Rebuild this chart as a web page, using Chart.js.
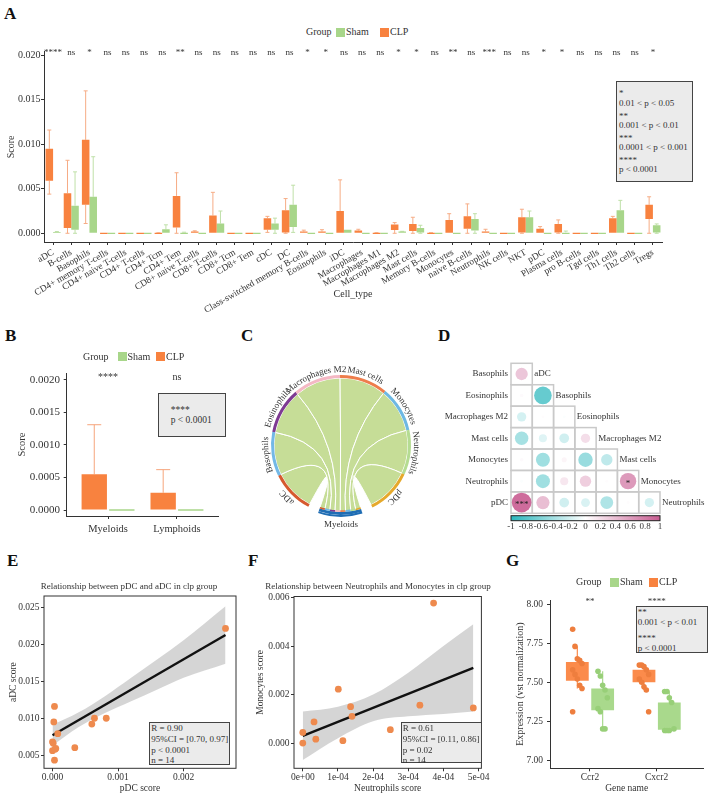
<!DOCTYPE html>
<html lang="en">
<head>
<meta charset="UTF-8">
<title>Immune cell scores, CLP vs Sham</title>
<style>
  body { margin: 0; background: #fff; font-family: 'Liberation Serif', serif; color: #333; }
  #fig { position: relative; width: 709px; height: 801px; overflow: hidden; }
  canvas { position: absolute; }
  .lab { position: absolute; white-space: nowrap; line-height: 1; }
  .letter { position: absolute; font-weight: bold; font-size: 17px; line-height: 17px; color: #111; }
  .note { position: absolute; box-sizing: border-box; background: #ebebeb; border: 1px solid #444; white-space: nowrap; color: #333; }
  .sw { position: absolute; width: 9px; height: 9px; }
</style>
<script src="https://cdn.jsdelivr.net/npm/chart.js"></script>
</head>
<body>
<div id="fig">
  <div class="letter" style="left:4px;top:5px">A</div>
  <div class="letter" style="left:5px;top:327px">B</div>
  <div class="letter" style="left:241px;top:327px">C</div>
  <div class="letter" style="left:438px;top:327px">D</div>
  <div class="letter" style="left:7px;top:552px">E</div>
  <div class="letter" style="left:248px;top:552px">F</div>
  <div class="letter" style="left:506px;top:552px">G</div>

  <canvas id="chartA" width="709" height="285" style="left:0;top:40px"></canvas>
  <canvas id="chartB" width="240" height="180" style="left:0;top:360px"></canvas>
  <canvas id="chartC" width="200" height="180" style="left:240px;top:355px"></canvas>
  <canvas id="chartD" width="269" height="200" style="left:440px;top:340px"></canvas>
  <canvas id="chartE" width="240" height="231" style="left:0;top:570px"></canvas>
  <canvas id="chartF" width="250" height="231" style="left:240px;top:570px"></canvas>
  <canvas id="chartG" width="219" height="231" style="left:490px;top:570px"></canvas>
</div>

<script>
// ---- data ----
const cellTypes = ['aDC', 'B-cells', 'Basophils', 'CD4+ memory T-cells', 'CD4+ naive T-cells', 'CD4+ T-cells',
  'CD4+ Tcm', 'CD4+ Tem', 'CD8+ naive T-cells', 'CD8+ T-cells', 'CD8+ Tcm', 'CD8+ Tem', 'cDC', 'DC',
  'Class-switched memory B-cells', 'Eosinophils', 'iDC', 'Macrophages', 'Macrophages M1', 'Macrophages M2',
  'Mast cells', 'Memory B-cells', 'Monocytes', 'naive B-cells', 'Neutrophils', 'NK cells', 'NKT', 'pDC',
  'Plasma cells', 'pro B-cells', 'Tgd cells', 'Th1 cells', 'Th2 cells', 'Tregs'];
const clpQ1 = [0.0059, 0.0006, 0.0032, 0, 0, 0, 0, 0.00065, 0, 0, 0, 0, 0.0004, 0.0001, 0, 0, 0, 0, 0, 0.00037,
  0.00026, 0, 0, 0.0005, 0, 0, 0.0001, 0, 0.0001, 0, 0, 0, 0, 0.0016];
const clpQ3 = [0.0095, 0.0045, 0.0105, 0, 0, 0, 0.00003, 0.0042, 0.0002, 0.0020, 0, 0, 0.0017, 0.0026, 0.0002,
  0.0002, 0.0025, 0.0003, 0.00005, 0.0010, 0.00105, 0.00005, 0.0015, 0.0019, 0.0002, 0, 0.0018, 0.0005, 0.00105,
  0, 0, 0.0017, 0, 0.0032];
const clpLow = [0.0044, 0, 0.0011, 0, 0, 0, 0, 0, 0, 0, 0, 0, 0.0001, 0, 0, 0, 0, 0, 0, 0, 0, 0, 0, 0, 0, 0, 0, 0,
  0, 0, 0, 0, 0, 0];
const clpHigh = [0.0116, 0.0082, 0.0160, 0, 0, 0, 0.00005, 0.0068, 0.00028, 0.0046, 0, 0, 0.0019, 0.0039, 0.00035,
  0.0004, 0.0060, 0.00045, 0.00006, 0.0012, 0.0018, 0.00006, 0.0022, 0.0033, 0.00045, 0, 0.0027, 0.00075, 0.0015,
  0, 0, 0.0019, 0, 0.0041];
const shamQ1 = [0, 0.0004, 0, 0, 0, 0, 0, 0, 0, 0, 0, 0, 0.0004, 0.0007, 0, 0, 0, 0, 0, 0, 0.0001, 0, 0, 0.0003, 0,
  0, 0, 0, 0, 0, 0, 0, 0, 0.0001];
const shamQ3 = [0.00015, 0.0031, 0.0041, 0, 0, 0, 0.00045, 0.0001, 0, 0.0011, 0, 0, 0.0011, 0.0032, 0, 0, 0.0004,
  0.00003, 0, 0.0002, 0.0006, 0, 0, 0.0016, 0, 0, 0.0018, 0, 0.0001, 0, 0, 0.0026, 0, 0.0009];
const shamLow = [0, 0, 0, 0, 0, 0, 0, 0, 0, 0, 0, 0, 0, 0.0001, 0, 0, 0, 0, 0, 0, 0, 0, 0, 0, 0, 0, 0, 0, 0, 0, 0,
  0, 0, 0];
const shamHigh = [0.0002, 0.0069, 0.0086, 0, 0, 0, 0.00095, 0.00012, 0, 0.0025, 0, 0, 0.0017, 0.0054, 0, 0, 0.0004,
  0, 0, 0.00022, 0.0009, 0, 0, 0.0022, 0, 0, 0.0025, 0, 0.00025, 0, 0, 0.0037, 0, 0.00105];
const sigA = ['****', 'ns', '*', 'ns', 'ns', 'ns', 'ns', '**', 'ns', 'ns', 'ns', 'ns', 'ns', 'ns', '*', '*', 'ns',
  'ns', 'ns', '*', '*', 'ns', '**', 'ns', '***', 'ns', 'ns', '*', '*', 'ns', 'ns', 'ns', 'ns', '*'];
const yTicksA = [0, 0.005, 0.010, 0.015, 0.020];

const groupsB = ['Myeloids', 'Lymphoids'];
const clpMeanB = [0.00055, 0.000265];
const clpErrB = [0.00131, 0.00062];
const shamMeanB = [0, 0];
const sigB = ['****', 'ns'];
const yTicksB = [0, 0.0005, 0.0010, 0.0015, 0.0020];

const chordSource = 'Myeloids';
const chordSourceSize = 36;
const chordTargets = ['aDC', 'Basophils', 'Eosinophils', 'Macrophages M2', 'Mast cells', 'Monocytes', 'Neutrophils', 'pDC'];
const chordSizes = [36, 37, 38.5, 39.8, 40.2, 38, 37.5, 38.4];

const corrRows = ['Basophils', 'Eosinophils', 'Macrophages M2', 'Mast cells', 'Monocytes', 'Neutrophils', 'pDC'];
const corrCols = ['aDC', 'Basophils', 'Eosinophils', 'Macrophages M2', 'Mast cells', 'Monocytes', 'Neutrophils'];
const corrValues = [
  [0.35],
  [0.03, -0.72],
  [-0.2, 0.02, -0.02],
  [-0.42, -0.15, -0.22, 0.2],
  [0.03, -0.45, 0.06, -0.48, -0.3],
  [-0.02, -0.45, 0.15, 0.3, 0.02, 0.62],
  [0.9, 0.4, -0.22, -0.18, -0.38, 0.02, -0.2]
];
const corrSig = [[''], ['', ''], ['', '', ''], ['', '', '', ''], ['', '', '', '', ''],
  ['', '', '', '', '', '*'], ['***', '', '', '', '', '', '']];
const colorTicks = [-1, -0.8, -0.6, -0.4, -0.2, 0, 0.2, 0.4, 0.6, 0.8, 1];

const pdcScore = [0.00264, 0.00003, 0.00002, 0.00008, 0, 0.00001, 0.00005, 0, 0.00003, 0.00034, 0.00060, 0.00064, 0.00082, 0.00004];
const adcScore = [0.0222, 0.0116, 0.0095, 0.0079, 0.0068, 0.0066, 0.0059, 0.0056, 0.0043, 0.0060, 0.0092, 0.0100, 0.0100, 0.0058];
const fitEx = [0, 0.00264];
const fitEy = [0.0077, 0.0213];
const bandEx = [0, 0.0004, 0.0008, 0.0012, 0.0016, 0.002, 0.00264];
const bandEhi = [0.0091, 0.0108, 0.0130, 0.0155, 0.0180, 0.0206, 0.0252];
const bandElo = [0.0063, 0.0088, 0.0107, 0.0123, 0.0139, 0.0155, 0.0174];
const xTicksE = [0, 0.001, 0.002];
const yTicksE = [0.005, 0.010, 0.015, 0.020, 0.025];

const neutScore = [0.000372, 0.000101, 0.000136, 0.000140, 0.000333, 0.000485, 0.000032, 0, 0, 0.000037, 0.000114, 0.000249];
const monoScore = [0.00577, 0.00222, 0.0015, 0.0011, 0.00156, 0.00145, 0.00087, 0.00044, 0, 0.00016, 0.0001, 0.00055];
const fitFx = [0, 0.000485];
const fitFy = [0.0003, 0.0031];
const bandFx = [0, 0.0001, 0.0002, 0.0003, 0.0004, 0.000485];
const bandFhi = [0.0013, 0.0015, 0.0020, 0.0029, 0.0040, 0.0049];
const bandFlo = [-0.0007, 0.0002, 0.0009, 0.0011, 0.0012, 0.0013];
const xTicksF = [0, 0.0001, 0.0002, 0.0003, 0.0004, 0.0005];
const xTickLabelsF = ['0e+00', '1e-04', '2e-04', '3e-04', '4e-04', '5e-04'];
const yTicksF = [0, 0.002, 0.004, 0.006];

const genes = ['Ccr2', 'Cxcr2'];
const clpQ1G = [7.51, 7.50], clpQ3G = [7.63, 7.58], clpLowG = [7.46, 7.45], clpHighG = [7.73, 7.61];
const shamQ1G = [7.32, 7.195], shamQ3G = [7.46, 7.37], shamLowG = [7.20, 7.19], shamHighG = [7.57, 7.44];
const clpPointsG = [[7.84, 7.73, 7.65, 7.64, 7.62, 7.58, 7.55, 7.52, 7.48, 7.46, 7.31],
                    [7.61, 7.61, 7.60, 7.58, 7.55, 7.52, 7.50, 7.47, 7.45, 7.31]];
const shamPointsG = [[7.57, 7.54, 7.48, 7.45, 7.40, 7.33, 7.31, 7.20, 7.20],
                     [7.44, 7.44, 7.40, 7.37, 7.20, 7.19, 7.19, 7.19]];
const sigG = ['**', '****'];
const yTicksG = [7.00, 7.25, 7.50, 7.75, 8.00];

// ---- style ----
const INK = '#333';
const SERIF = "'Liberation Serif', serif";
const CLP_COL = '#F8823F', SHAM_COL = '#A8D68A';
const PT_COL = '#EE8A4E';
Chart.defaults.font.family = SERIF;
Chart.defaults.color = INK;
Chart.defaults.animation = false;
Chart.defaults.responsive = false;
Chart.defaults.plugins.legend.display = false;
Chart.defaults.plugins.tooltip.enabled = false;

function mkAxis(o) {
  return {
    type: o.type || 'linear',
    display: true,
    min: o.min, max: o.max, reverse: false,
    offset: o.offset || false,
    afterBuildTicks: o.ticks ? s => { s.ticks = o.ticks.map(v => ({ value: v })); } : undefined,
    afterFit: s => { if (o.width) s.width = o.width; if (o.height) s.height = o.height; },
    ticks: { callback: o.fmt, font: { size: o.size }, padding: o.pad, color: INK, autoSkip: false,
             maxRotation: o.rot || 0, minRotation: o.rot || 0 },
    grid: { drawOnChartArea: false, drawTicks: true, tickLength: 3, color: INK, offset: false },
    border: { display: !o.frame, color: INK, width: 1 },
    title: { display: !!o.title, text: o.title, font: { size: o.titleSize }, color: INK, padding: o.titlePad || 0 }
  };
}

// whiskers / error bars, drawn from the bar elements and the y scale
const whiskerPlugin = {
  id: 'whiskers',
  beforeDatasetsDraw(chart) {
    const { ctx } = chart, y = chart.scales.y;
    chart.data.datasets.forEach((ds, d) => {
      const w = ds.whisker;
      if (!w) return;
      const bars = chart.getDatasetMeta(d).data;
      ctx.save();
      ctx.strokeStyle = w.color;
      ctx.lineWidth = w.width || 1;
      bars.forEach((bar, i) => {
        const segs = [];
        if (w.high && w.high[i] > w.top[i]) segs.push([w.top[i], w.high[i]]);
        if (w.low && w.low[i] < w.bottom[i]) segs.push([w.bottom[i], w.low[i]]);
        segs.forEach(([from, to]) => {
          const y0 = y.getPixelForValue(from), y1 = y.getPixelForValue(to);
          ctx.beginPath();
          ctx.moveTo(bar.x, y0); ctx.lineTo(bar.x, y1);
          if (w.cap) { ctx.moveTo(bar.x - w.cap, y1); ctx.lineTo(bar.x + w.cap, y1); }
          ctx.stroke();
        });
      });
      ctx.restore();
    });
  }
};

const sigPlugin = {
  id: 'sig',
  afterDatasetsDraw(chart, args, opts) {
    if (!opts.labels) return;
    const { ctx, scales: { x, y } } = chart;
    ctx.save();
    ctx.font = opts.size + 'px ' + SERIF;
    ctx.fillStyle = INK; ctx.textAlign = 'center'; ctx.textBaseline = 'middle';
    opts.labels.forEach((t, i) => ctx.fillText(t, x.getPixelForValue(i), y.getPixelForValue(opts.at)));
    ctx.restore();
  }
};

const framePlugin = {
  id: 'frame',
  afterDatasetsDraw(chart) {
    const { ctx, chartArea: a } = chart;
    ctx.save(); ctx.strokeStyle = INK; ctx.lineWidth = 1;
    ctx.strokeRect(a.left, a.top, a.right - a.left, a.bottom - a.top);
    ctx.restore();
  }
};

// ---- A ----
new Chart(document.getElementById('chartA'), {
  type: 'bar',
  data: {
    labels: cellTypes,
    datasets: [
      { label: 'CLP', data: cellTypes.map((_, i) => [clpQ1[i], clpQ3[i]]), backgroundColor: CLP_COL,
        minBarLength: 1.2, categoryPercentage: 0.83, barPercentage: 1,
        whisker: { top: clpQ3, bottom: clpQ1, high: clpHigh, low: clpLow, color: '#F6AC85', cap: 2 } },
      { label: 'Sham', data: cellTypes.map((_, i) => [shamQ1[i], shamQ3[i]]), backgroundColor: SHAM_COL,
        minBarLength: 1.2, categoryPercentage: 0.83, barPercentage: 1,
        whisker: { top: shamQ3, bottom: shamQ1, high: shamHigh, low: shamLow, color: '#BFE0A8', cap: 2 } }
    ]
  },
  options: {
    layout: { padding: { top: 11.7, right: 47, left: 0, bottom: 0 } },
    plugins: { sig: { labels: sigA, at: 0.0203, size: 9 } },
    scales: {
      x: mkAxis({ type: 'category', offset: true, fmt: v => cellTypes[v], size: 9.3, pad: 2, rot: 30, height: 83,
                  title: 'Cell_type', titleSize: 10, titlePad: 25 }),
      y: mkAxis({ min: -0.00098, max: 0.0204, ticks: yTicksA, fmt: v => v.toFixed(3), size: 10, pad: 0.5,
                  width: 44, title: 'Score', titleSize: 10, titlePad: 5 })
    }
  },
  plugins: [whiskerPlugin, sigPlugin]
});

// ---- B ----
new Chart(document.getElementById('chartB'), {
  type: 'bar',
  data: {
    datasets: [
      { label: 'CLP', data: groupsB.map((g, i) => ({ x: i, y: clpMeanB[i] })), backgroundColor: CLP_COL,
        categoryPercentage: 0.8, barPercentage: 0.92,
        whisker: { top: clpMeanB, high: clpErrB, color: '#F6A57C', cap: 7 } },
      { label: 'Sham', data: groupsB.map((g, i) => ({ x: i, y: shamMeanB[i] })), backgroundColor: SHAM_COL,
        categoryPercentage: 0.8, barPercentage: 0.92, minBarLength: 1.5 }
    ]
  },
  options: {
    layout: { padding: { top: 13.3, right: 21.7, left: 0, bottom: 0 } },
    plugins: { sig: { labels: sigB, at: 0.00203, size: 10 } },
    scales: {
      x: mkAxis({ min: -0.6, max: 1.6, ticks: [0, 1], fmt: v => groupsB[Math.round(v)], size: 10.5, pad: 3.7, height: 24 }),
      y: mkAxis({ min: -0.000092, max: 0.0021, ticks: yTicksB, fmt: v => v.toFixed(4), size: 11, pad: 3.7,
                  width: 66.7, title: 'Score', titleSize: 10.5, titlePad: 15.7 })
    }
  },
  plugins: [whiskerPlugin, sigPlugin]
});

// ---- C ----
const chordColors = ['#D65A2E', '#73B8E6', '#7E3A92', '#F4B8C4', '#EE7D4C', '#6DB8E3', '#B5DC92', '#E6A92B'];
const SOURCE_COL = '#1F6DB4';
const GAP = 9.3;
function arcText(ctx, text, cx, cy, r, mid) {
  const total = ctx.measureText(text).width;
  let a = mid - total / r / 2;
  for (const ch of text) {
    const w = ctx.measureText(ch).width;
    const ang = a + w / r / 2;
    ctx.save();
    ctx.translate(cx + r * Math.cos(ang), cy + r * Math.sin(ang));
    ctx.rotate(ang + Math.PI / 2);
    ctx.fillText(ch, 0, 0);
    ctx.restore();
    a += w / r;
  }
}
const chordPlugin = {
  id: 'chord',
  beforeDatasetsDraw(chart) {
    const ctx = chart.ctx, arcs = chart.getDatasetMeta(0).data, src = arcs[0];
    const cx = src.x, cy = src.y, r = src.innerRadius;
    const step = (src.endAngle - src.startAngle) / chordTargets.length;
    ctx.save();
    ctx.fillStyle = '#C6DD97'; ctx.strokeStyle = '#fff'; ctx.lineWidth = 1;
    chordTargets.forEach((name, k) => {
      const a = arcs[k + 2];
      const m1 = src.endAngle - k * step, m0 = m1 - step;
      ctx.beginPath();
      ctx.arc(cx, cy, r, a.startAngle, a.endAngle);
      ctx.quadraticCurveTo(cx, cy, cx + r * Math.cos(m0), cy + r * Math.sin(m0));
      ctx.arc(cx, cy, r, m0, m1);
      ctx.quadraticCurveTo(cx, cy, cx + r * Math.cos(a.startAngle), cy + r * Math.sin(a.startAngle));
      ctx.closePath();
      ctx.fill(); ctx.stroke();
    });
    ctx.restore();
  },
  afterDatasetsDraw(chart) {
    const ctx = chart.ctx, arcs = chart.getDatasetMeta(0).data, src = arcs[0];
    const cx = src.x, cy = src.y, ro = src.outerRadius, ri = src.innerRadius;
    const step = (src.endAngle - src.startAngle) / chordTargets.length;
    ctx.save();
    // thicker source band and the link-coloured strip under it
    ctx.strokeStyle = SOURCE_COL; ctx.lineWidth = 2;
    ctx.beginPath(); ctx.arc(cx, cy, ro + 0.8, src.startAngle, src.endAngle); ctx.stroke();
    ctx.lineWidth = 1.6;
    chordTargets.forEach((name, k) => {
      const m1 = src.endAngle - k * step;
      ctx.strokeStyle = chordColors[k];
      ctx.beginPath(); ctx.arc(cx, cy, ri - 0.9, m1 - step, m1); ctx.stroke();
    });
    // labels
    ctx.font = '9px ' + SERIF; ctx.fillStyle = INK; ctx.textAlign = 'center'; ctx.textBaseline = 'alphabetic';
    chordTargets.forEach((name, k) => {
      const a = arcs[k + 2];
      arcText(ctx, name, cx, cy, ro + 3, (a.startAngle + a.endAngle) / 2);
    });
    ctx.textBaseline = 'middle';
    ctx.fillText(chordSource, cx, cy + ro + 10);
    ctx.restore();
  }
};
new Chart(document.getElementById('chartC'), {
  type: 'doughnut',
  data: {
    labels: [chordSource, '', ...chordTargets, ''],
    datasets: [{
      data: [chordSourceSize, GAP, ...chordSizes, GAP],
      backgroundColor: [SOURCE_COL, 'rgba(0,0,0,0)', ...chordColors, 'rgba(0,0,0,0)'],
      borderWidth: 0, hoverOffset: 0
    }]
  },
  options: {
    rotation: 162.6, radius: 70, cutout: 67,
    layout: { padding: { left: 31, right: 29, top: 20, bottom: 20 } }
  },
  plugins: [chordPlugin]
});

// ---- D ----
function corrColor(v) {
  const a = Math.min(Math.abs(v), 1);
  const end = v < 0 ? [42, 183, 189] : [200, 92, 145];
  const c = end.map(e => Math.round(255 + (e - 255) * a));
  return 'rgb(' + c.join(',') + ')';
}
const corrPoints = [];
corrValues.forEach((row, r) => row.forEach((v, c) => corrPoints.push({ x: c, y: r, r: 10.4 * Math.sqrt(Math.abs(v)), v })));
const corrPlugin = {
  id: 'corrGrid',
  beforeDatasetsDraw(chart) {
    const { ctx, scales: { x, y } } = chart;
    const hx = (x.getPixelForValue(1) - x.getPixelForValue(0)) / 2;
    const hy = (y.getPixelForValue(1) - y.getPixelForValue(0)) / 2;
    ctx.save(); ctx.strokeStyle = '#c9c9c9'; ctx.lineWidth = 1.5;
    corrValues.forEach((row, r) => row.forEach((v, c) => {
      ctx.strokeRect(x.getPixelForValue(c) - hx, y.getPixelForValue(r) - hy, 2 * hx, 2 * hy);
    }));
    ctx.restore();
  },
  afterDatasetsDraw(chart) {
    const { ctx, scales: { x, y }, chartArea } = chart;
    const hx = (x.getPixelForValue(1) - x.getPixelForValue(0)) / 2;
    ctx.save();
    ctx.font = '9px ' + SERIF; ctx.fillStyle = '#222'; ctx.textBaseline = 'middle'; ctx.textAlign = 'center';
    corrSig.forEach((row, r) => row.forEach((s, c) => {
      if (s) ctx.fillText(s, x.getPixelForValue(c), y.getPixelForValue(r) + 2);
    }));
    ctx.fillStyle = INK;
    ctx.textAlign = 'right';
    corrRows.forEach((name, r) => ctx.fillText(name, x.getPixelForValue(0) - hx - 3, y.getPixelForValue(r)));
    ctx.textAlign = 'left';
    corrCols.forEach((name, c) => ctx.fillText(name, x.getPixelForValue(c) + hx + 2, y.getPixelForValue(c)));
    // colour bar
    const x0 = x.getPixelForValue(-0.5), x1 = x.getPixelForValue(6.5), y0 = chartArea.bottom + 2.4, h = 5;
    const g = ctx.createLinearGradient(x0, 0, x1, 0);
    colorTicks.forEach(t => g.addColorStop((t + 1) / 2, corrColor(t)));
    ctx.fillStyle = g; ctx.fillRect(x0, y0, x1 - x0, h);
    ctx.strokeStyle = '#222'; ctx.lineWidth = 1; ctx.strokeRect(x0, y0, x1 - x0, h);
    ctx.fillStyle = INK; ctx.textAlign = 'center';
    colorTicks.forEach(t => ctx.fillText(String(t), x0 + (t + 1) / 2 * (x1 - x0), y0 + h + 6));
    ctx.restore();
  }
};
new Chart(document.getElementById('chartD'), {
  type: 'bubble',
  data: { datasets: [{ data: corrPoints, backgroundColor: c => corrColor(c.raw ? c.raw.v : 0), borderWidth: 0 }] },
  options: {
    layout: { padding: { left: 71, right: 49, top: 23.3, bottom: 26.7 } },
    scales: {
      x: { type: 'linear', display: false, min: -0.5, max: 6.5 },
      y: { type: 'linear', display: false, min: -0.5, max: 6.5, reverse: true }
    }
  },
  plugins: [corrPlugin]
});

// ---- E & F ----
function regressionChart(id, o) {
  new Chart(document.getElementById(id), {
    type: 'scatter',
    data: {
      datasets: [
        { data: o.xs.map((v, i) => ({ x: v, y: o.ys[i] })), backgroundColor: PT_COL, pointRadius: 3.4, borderWidth: 0 },
        { type: 'line', data: o.fitX.map((v, i) => ({ x: v, y: o.fitY[i] })), borderColor: '#111', borderWidth: 2.4, pointRadius: 0 },
        { type: 'line', data: o.bandX.map((v, i) => ({ x: v, y: o.bandHi[i] })), borderWidth: 0, pointRadius: 0,
          fill: '+1', backgroundColor: 'rgba(185,185,185,0.6)', cubicInterpolationMode: 'monotone' },
        { type: 'line', data: o.bandX.map((v, i) => ({ x: v, y: o.bandLo[i] })), borderWidth: 0, pointRadius: 0,
          fill: false, cubicInterpolationMode: 'monotone' }
      ]
    },
    options: {
      layout: { padding: { top: o.top, right: o.right, left: 0, bottom: 0 } },
      scales: {
        x: mkAxis({ min: o.xMin, max: o.xMax, ticks: o.xTicks, fmt: o.xFmt, size: 9.5, pad: 0.5, height: 32.7,
                    frame: true, title: o.xTitle, titleSize: 9.5, titlePad: 7 }),
        y: mkAxis({ min: o.yMin, max: o.yMax, ticks: o.yTicks, fmt: v => v.toFixed(3), size: 9.5, pad: 1.5,
                    width: o.yWidth, frame: true, title: o.yTitle, titleSize: 9.5, titlePad: o.yTitlePad })
      }
    },
    plugins: [framePlugin]
  });
}
regressionChart('chartE', {
  xs: pdcScore, ys: adcScore, fitX: fitEx, fitY: fitEy, bandX: bandEx, bandHi: bandEhi, bandLo: bandElo,
  xMin: -0.00013, xMax: 0.0028, yMin: 0.0032, yMax: 0.0266, xTicks: xTicksE, yTicks: yTicksE,
  xFmt: v => v.toFixed(3), xTitle: 'pDC score', yTitle: 'aDC score', top: 26, right: 4, yWidth: 44, yTitlePad: 7.3
});
regressionChart('chartF', {
  xs: neutScore, ys: monoScore, fitX: fitFx, fitY: fitFy, bandX: bandFx, bandHi: bandFhi, bandLo: bandFlo,
  xMin: -0.000025, xMax: 0.000508, yMin: -0.00104, yMax: 0.00604, xTicks: xTicksF, yTicks: yTicksF,
  xFmt: (v, i) => xTickLabelsF[i], xTitle: 'Neutrophils score', yTitle: 'Monocytes score',
  top: 26.5, right: 6.7, yWidth: 54, yTitlePad: 14.8
});

// ---- G ----
const DODGE = 0.76 / 4;
function jittered(groups, side) {
  const pts = [];
  groups.forEach((vals, g) => vals.forEach((v, k) => pts.push({ x: g + side * DODGE + ((k % 5) - 2) * 0.035, y: v })));
  return pts;
}
new Chart(document.getElementById('chartG'), {
  type: 'bar',
  data: {
    datasets: [
      { type: 'scatter', data: jittered(clpPointsG, -1), backgroundColor: '#EE7E3E', pointRadius: 2.8, borderWidth: 0 },
      { type: 'scatter', data: jittered(shamPointsG, 1), backgroundColor: '#98CF78', pointRadius: 2.8, borderWidth: 0 },
      { label: 'CLP', data: genes.map((g, i) => ({ x: i, y: [clpQ1G[i], clpQ3G[i]] })), backgroundColor: '#FB8B4B',
        categoryPercentage: 0.76, barPercentage: 0.9,
        whisker: { top: clpQ3G, bottom: clpQ1G, high: clpHighG, low: clpLowG, color: '#FB8B4B', width: 1.2 } },
      { label: 'Sham', data: genes.map((g, i) => ({ x: i, y: [shamQ1G[i], shamQ3G[i]] })), backgroundColor: '#A9D98C',
        categoryPercentage: 0.76, barPercentage: 0.9,
        whisker: { top: shamQ3G, bottom: shamQ1G, high: shamHighG, low: shamLowG, color: '#A9D98C', width: 1.2 } }
    ]
  },
  options: {
    layout: { padding: { top: 30, right: 5.7, left: 0, bottom: 0 } },
    plugins: { sig: { labels: sigG, at: 8.017, size: 9 } },
    scales: {
      x: mkAxis({ min: -0.6, max: 1.7, ticks: [0, 1], fmt: v => genes[Math.round(v)], size: 9.5, pad: 0.5, height: 32.7,
                  title: 'Gene name', titleSize: 9.5, titlePad: 7 }),
      y: mkAxis({ min: 6.947, max: 8.028, ticks: yTicksG, fmt: v => v.toFixed(2), size: 9.5, pad: 4,
                  width: 60, title: 'Expression (vst normalization)', titleSize: 10, titlePad: 24 })
    }
  },
  plugins: [whiskerPlugin, sigPlugin]
});

// ---- text overlays: legends, titles, p-value notes ----
const fig = document.getElementById('fig');
function put(text, x, y, size, center) {
  const el = document.createElement('div');
  el.className = 'lab';
  el.textContent = text;
  el.style.cssText = 'left:' + x + 'px;top:' + y + 'px;font-size:' + size + 'px;transform:translate(' +
    (center ? '-50%' : '0') + ',-50%)';
  fig.appendChild(el);
}
function swatch(x, y, color) {
  const el = document.createElement('div');
  el.className = 'sw';
  el.style.cssText = 'left:' + x + 'px;top:' + (y - 4.5) + 'px;background:' + color;
  fig.appendChild(el);
}
function legend(x, y, pos) {
  put('Group', x, y, 10);
  swatch(pos[0], y, SHAM_COL); put('Sham', pos[0] + 10, y, 10);
  swatch(pos[1], y, CLP_COL); put('CLP', pos[1] + 10, y, 10);
}
legend(306, 32.3, [336, 380]);
legend(83, 356.7, [117.5, 156]);
legend(576, 582.3, [610, 649]);

function note(x, y, w, h, groups, o) {
  const el = document.createElement('div');
  el.className = 'note';
  el.style.cssText = 'left:' + x + 'px;top:' + y + 'px;width:' + w + 'px;height:' + h + 'px;font-size:' + o.size +
    'px;line-height:' + o.lh + 'px;padding:' + o.padTop + 'px 0 0 ' + o.padLeft + 'px';
  groups.forEach(lines => {
    const g = document.createElement('div');
    g.style.marginBottom = (o.gap || 0) + 'px';
    lines.forEach(t => { const l = document.createElement('div'); l.textContent = t; g.appendChild(l); });
    el.appendChild(g);
  });
  fig.appendChild(el);
}
note(616, 80.7, 77, 101, [['*', '0.01 < p < 0.05'], ['**', '0.001 < p < 0.01'], ['***', '0.0001 < p < 0.001'], ['****', 'p < 0.0001']],
     { size: 9, lh: 9.3, gap: 3.7, padTop: 7.6, padLeft: 2 });
note(157.7, 393, 68, 43.7, [['****', 'p < 0.0001']], { size: 9.5, lh: 10.3, padTop: 10.8, padLeft: 12 });
note(635.7, 605.7, 72.6, 47, [['**', '0.001 < p < 0.01'], ['****', 'p < 0.0001']], { size: 9, lh: 10.2, gap: 5.5, padTop: 0, padLeft: 1 });
note(149.3, 721.7, 80.7, 43.3, [['R = 0.90', '95%CI = [0.70, 0.97]', 'p < 0.0001', 'n = 14']], { size: 9, lh: 10.9, padTop: 0, padLeft: 1 });
note(400.7, 721.7, 81, 41.6, [['R = 0.61', '95%CI = [0.11, 0.86]', 'p = 0.02', 'n = 14']], { size: 9, lh: 10.9, padTop: 0, padLeft: 1 });

put('Relationship between pDC and aDC in clp group', 129, 585.7, 9, true);
put('Relationship between Neutrophils and Monocytes in clp group', 378, 585.7, 9, true);
</script>
</body>
</html>
